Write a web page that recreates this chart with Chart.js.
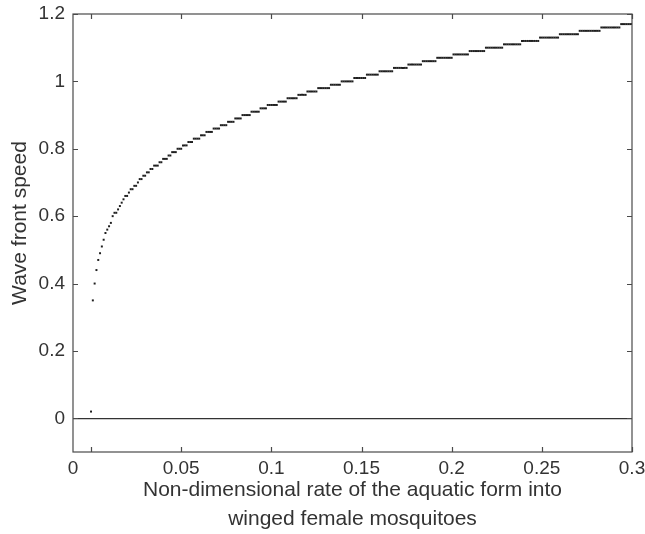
<!DOCTYPE html>
<html>
<head>
<meta charset="utf-8">
<script src="https://cdn.jsdelivr.net/npm/chart.js@4/dist/chart.umd.min.js"></script>
<style>
  html, body { margin: 0; padding: 0; background: #fff; }
  canvas { display: block; }
</style>
</head>
<body>
<canvas id="speedChart" width="645" height="534"></canvas>
<script>
// ── Data ──────────────────────────────────────────────────────────────
// rate of the aquatic form, sampled every 0.001 from 0 to 0.3
var rateStart = 0;
var rateStep  = 0.001;

// computed wave front speed at each sampled rate (2 decimals)
var speeds = [
    0.02, 0.35, 0.40, 0.44, 0.47, 0.49, 0.51, 0.53, 0.55, 0.56,
    0.57, 0.58, 0.60, 0.61, 0.61, 0.62, 0.63, 0.64, 0.65, 0.66,
    0.66, 0.67, 0.68, 0.68, 0.69, 0.69, 0.70, 0.71, 0.71, 0.72,
    0.72, 0.73, 0.73, 0.74, 0.74, 0.75, 0.75, 0.75, 0.76, 0.76,
    0.77, 0.77, 0.77, 0.78, 0.78, 0.79, 0.79, 0.79, 0.80, 0.80,
    0.80, 0.81, 0.81, 0.81, 0.82, 0.82, 0.82, 0.83, 0.83, 0.83,
    0.83, 0.84, 0.84, 0.84, 0.85, 0.85, 0.85, 0.85, 0.86, 0.86,
    0.86, 0.86, 0.87, 0.87, 0.87, 0.87, 0.88, 0.88, 0.88, 0.88,
    0.89, 0.89, 0.89, 0.89, 0.90, 0.90, 0.90, 0.90, 0.90, 0.91,
    0.91, 0.91, 0.91, 0.91, 0.92, 0.92, 0.92, 0.92, 0.93, 0.93,
    0.93, 0.93, 0.93, 0.93, 0.94, 0.94, 0.94, 0.94, 0.94, 0.95,
    0.95, 0.95, 0.95, 0.95, 0.95, 0.96, 0.96, 0.96, 0.96, 0.96,
    0.97, 0.97, 0.97, 0.97, 0.97, 0.97, 0.98, 0.98, 0.98, 0.98,
    0.98, 0.98, 0.98, 0.99, 0.99, 0.99, 0.99, 0.99, 0.99, 1.00,
    1.00, 1.00, 1.00, 1.00, 1.00, 1.00, 1.01, 1.01, 1.01, 1.01,
    1.01, 1.01, 1.01, 1.02, 1.02, 1.02, 1.02, 1.02, 1.02, 1.02,
    1.03, 1.03, 1.03, 1.03, 1.03, 1.03, 1.03, 1.03, 1.04, 1.04,
    1.04, 1.04, 1.04, 1.04, 1.04, 1.04, 1.05, 1.05, 1.05, 1.05,
    1.05, 1.05, 1.05, 1.05, 1.06, 1.06, 1.06, 1.06, 1.06, 1.06,
    1.06, 1.06, 1.07, 1.07, 1.07, 1.07, 1.07, 1.07, 1.07, 1.07,
    1.07, 1.08, 1.08, 1.08, 1.08, 1.08, 1.08, 1.08, 1.08, 1.08,
    1.09, 1.09, 1.09, 1.09, 1.09, 1.09, 1.09, 1.09, 1.09, 1.10,
    1.10, 1.10, 1.10, 1.10, 1.10, 1.10, 1.10, 1.10, 1.10, 1.11,
    1.11, 1.11, 1.11, 1.11, 1.11, 1.11, 1.11, 1.11, 1.11, 1.12,
    1.12, 1.12, 1.12, 1.12, 1.12, 1.12, 1.12, 1.12, 1.12, 1.13,
    1.13, 1.13, 1.13, 1.13, 1.13, 1.13, 1.13, 1.13, 1.13, 1.13,
    1.14, 1.14, 1.14, 1.14, 1.14, 1.14, 1.14, 1.14, 1.14, 1.14,
    1.14, 1.15, 1.15, 1.15, 1.15, 1.15, 1.15, 1.15, 1.15, 1.15,
    1.15, 1.15, 1.15, 1.16, 1.16, 1.16, 1.16, 1.16, 1.16, 1.16,
    1.16, 1.16, 1.16, 1.16, 1.17, 1.17, 1.17, 1.17, 1.17, 1.17,
    1.17
];

// axis limits and ticks
var xMin = -0.01, xMax = 0.3;
var yMin = -0.1,  yMax = 1.2;
var xTicks      = [0, 0.05, 0.1, 0.15, 0.2, 0.25, 0.3];
var xTickLabels = ['0', '0.05', '0.1', '0.15', '0.2', '0.25', '0.3'];
var yTicks      = [0, 0.2, 0.4, 0.6, 0.8, 1, 1.2];
var yTickLabels = ['0', '0.2', '0.4', '0.6', '0.8', '1', '1.2'];
var yTitle = 'Wave front speed';

var points = speeds.map(function(v, i) {
    return { x: rateStart + i * rateStep, y: v };
});

// ── Frame + inward tick marks (box on all four sides) ────────────────
var frameColor = '#4a4a4a';
var textColor  = '#333';
var tickLen = 5;
var fontFamily = '"Liberation Sans", Arial, sans-serif';

var boxAxes = {
    id: 'boxAxes',
    afterDraw: function(chart) {
        var ctx = chart.ctx, a = chart.chartArea;
        var xs = chart.scales.x, ys = chart.scales.y;
        ctx.save();
        ctx.strokeStyle = frameColor;
        ctx.lineWidth = 1.2;
        ctx.strokeRect(a.left, a.top, a.right - a.left, a.bottom - a.top);
        ctx.beginPath();
        xTicks.forEach(function(v) {
            var px = Math.round(xs.getPixelForValue(v)) + 0.5;
            ctx.moveTo(px, a.bottom); ctx.lineTo(px, a.bottom - tickLen);
            ctx.moveTo(px, a.top);    ctx.lineTo(px, a.top + tickLen);
        });
        yTicks.forEach(function(v) {
            var py = Math.round(ys.getPixelForValue(v)) + 0.5;
            ctx.moveTo(a.left, py);  ctx.lineTo(a.left + tickLen, py);
            ctx.moveTo(a.right, py); ctx.lineTo(a.right - tickLen, py);
        });
        ctx.stroke();

        // y title, set a little above the middle of the box
        ctx.translate(20, (a.top + a.bottom) / 2 - 10);
        ctx.rotate(-Math.PI / 2);
        ctx.fillStyle = textColor;
        ctx.font = '21px ' + fontFamily;
        ctx.textAlign = 'center';
        ctx.textBaseline = 'middle';
        ctx.fillText(yTitle, 0, 0);
        ctx.restore();
    }
};

var labelFont = { family: fontFamily, size: 19 };
var titleFont = { family: fontFamily, size: 21, lineHeight: 1.35 };

new Chart(document.getElementById('speedChart'), {
    type: 'scatter',
    data: {
        datasets: [{
            data: points,
            pointStyle: 'rect',
            pointRadius: 1.4,
            pointHoverRadius: 1.4,
            pointBorderWidth: 0,
            pointBackgroundColor: '#1e1e1e',
            showLine: false
        }]
    },
    options: {
        responsive: false,
        animation: false,
        events: [],
        layout: { padding: { top: 14, right: 13, left: 0, bottom: 0 } },
        plugins: { legend: { display: false }, tooltip: { enabled: false } },
        scales: {
            x: {
                type: 'linear',
                min: xMin,
                max: xMax,
                afterBuildTicks: function(scale) {
                    // the "0" label sits at the left edge of the box
                    scale.ticks = xTicks.map(function(v, i) {
                        return { value: i === 0 ? xMin : v };
                    });
                },
                afterFit: function(scale) {
                    scale.height = 82;
                    scale.paddingLeft = 0;
                    scale.paddingRight = 0;
                },
                ticks: {
                    autoSkip: false,
                    maxRotation: 0,
                    padding: 5,
                    color: textColor,
                    font: labelFont,
                    callback: function(v, i) { return xTickLabels[i]; }
                },
                grid: { display: false, drawTicks: false },
                border: { display: false },
                title: {
                    display: true,
                    text: ['Non-dimensional rate of the aquatic form into', 'winged female mosquitoes'],
                    color: textColor,
                    font: titleFont,
                    padding: { top: 0, bottom: 1 }
                }
            },
            y: {
                type: 'linear',
                min: yMin,
                max: yMax,
                afterBuildTicks: function(scale) {
                    scale.ticks = yTicks.map(function(v) { return { value: v }; });
                },
                afterFit: function(scale) {
                    scale.width = 73;
                    scale.paddingTop = 0;
                    scale.paddingBottom = 0;
                },
                ticks: {
                    autoSkip: false,
                    padding: 8,
                    color: textColor,
                    font: labelFont,
                    callback: function(v, i) { return yTickLabels[i]; }
                },
                // only the zero line is drawn across the plot
                grid: {
                    drawTicks: false,
                    lineWidth: 1.2,
                    color: function(c) {
                        return c.tick && c.tick.value === 0 ? '#333' : 'rgba(0,0,0,0)';
                    }
                },
                border: { display: false },
                title: { display: false }
            }
        }
    },
    plugins: [boxAxes]
});
</script>
</body>
</html>
